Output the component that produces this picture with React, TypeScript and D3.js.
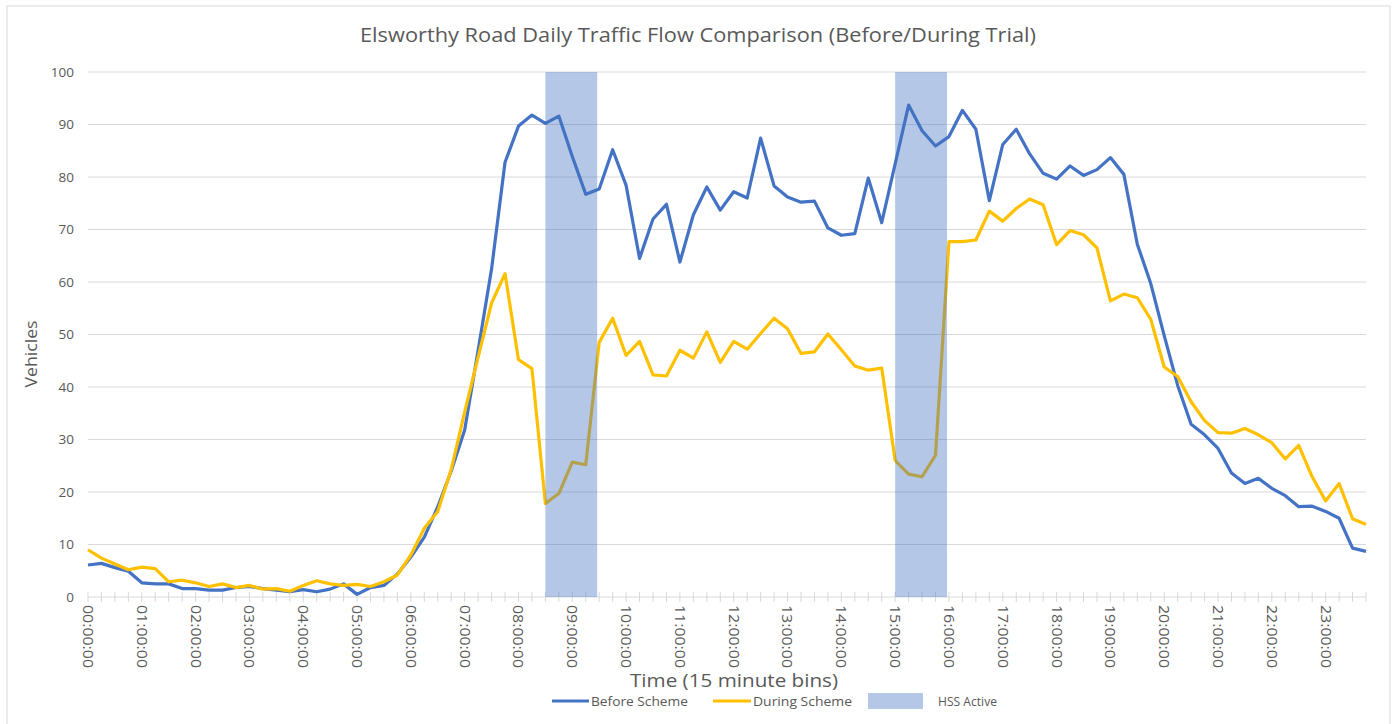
import React from "react";
import * as d3 from "d3";

// 15 minute bins, 00:00 .. 23:45 (96 values)
const beforeScheme = [
  6.1, 6.4, 5.6, 4.9, 2.7, 2.5, 2.5, 1.6, 1.6, 1.3, 1.3, 1.8, 2.0, 1.6, 1.3, 1.0,
  1.4, 1.0, 1.5, 2.5, 0.5, 1.8, 2.2, 4.4, 7.6, 11.4, 17.2, 24.0, 31.8, 47.0, 62.5, 82.8,
  89.7, 91.8, 90.2, 91.6, 83.9, 76.7, 77.7, 85.2, 78.4, 64.5, 72.0, 74.8, 63.8, 72.8, 78.1, 73.7,
  77.2, 76.0, 87.4, 78.3, 76.2, 75.2, 75.4, 70.3, 68.9, 69.2, 79.8, 71.3, 82.5, 93.7, 88.8, 85.9,
  87.7, 92.7, 89.1, 75.5, 86.2, 89.1, 84.4, 80.7, 79.6, 82.1, 80.3, 81.4, 83.7, 80.5, 67.2, 59.7,
  49.8, 40.3, 32.9, 30.9, 28.3, 23.6, 21.6, 22.6, 20.7, 19.3, 17.2, 17.3, 16.3, 15.0, 9.3, 8.7,
];

const duringScheme = [
  9.0, 7.4, 6.3, 5.2, 5.7, 5.4, 2.9, 3.2, 2.7, 2.0, 2.5, 1.8, 2.2, 1.5, 1.6, 1.1,
  2.2, 3.1, 2.5, 2.2, 2.4, 2.0, 2.9, 4.2, 8.0, 13.1, 16.3, 24.3, 35.2, 45.7, 56.0, 61.6,
  45.2, 43.5, 17.8, 19.7, 25.7, 25.2, 48.5, 53.1, 46.0, 48.7, 42.3, 42.1, 47.0, 45.5, 50.5, 44.7,
  48.7, 47.2, 50.2, 53.1, 51.1, 46.4, 46.7, 50.1, 47.1, 44.0, 43.2, 43.6, 26.0, 23.4, 22.9, 27.0,
  67.7, 67.7, 68.0, 73.5, 71.6, 74.0, 75.8, 74.7, 67.1, 69.8, 69.0, 66.5, 56.4, 57.7, 57.0, 52.9,
  43.8, 42.0, 37.2, 33.6, 31.3, 31.2, 32.1, 30.9, 29.4, 26.3, 28.9, 22.9, 18.3, 21.6, 14.9, 13.8,
];

const hourLabels = [
  "00:00:00", "01:00:00", "02:00:00", "03:00:00", "04:00:00", "05:00:00",
  "06:00:00", "07:00:00", "08:00:00", "09:00:00", "10:00:00", "11:00:00",
  "12:00:00", "13:00:00", "14:00:00", "15:00:00", "16:00:00", "17:00:00",
  "18:00:00", "19:00:00", "20:00:00", "21:00:00", "22:00:00", "23:00:00",
];

// HSS active windows
const hssPeriods: [string, string][] = [
  ["08:30", "09:30"],
  ["15:00", "16:00"],
];

const yTicks = [0, 10, 20, 30, 40, 50, 60, 70, 80, 90, 100];

const BLUE = "#4472C4";
const GOLD = "#FFC000";
const TEXT = "#595959";
const GRID = "#d9d9d9";
const FONT = "'Open Sans', Lato, sans-serif";

const toBin = (t: string) => {
  const [h, m] = t.split(":").map(Number);
  return h * 4 + m / 15;
};

export default function App() {
  const x = d3.scaleLinear().domain([0, beforeScheme.length - 1]).range([88, 1366]);
  const y = d3.scaleLinear().domain([0, 100]).range([597, 72]);

  const line = d3
    .line<number>()
    .x((_, i) => x(i))
    .y((d) => y(d));

  return (
    <svg
      width={1397}
      height={724}
      style={{ position: "absolute", left: 0, top: 0, background: "#fff" }}
      fontFamily={FONT}
    >
      <rect x={7} y={6} width={1383} height={730} fill="#fff" stroke={GRID} strokeWidth={1} />

      <text x={698} y={42} textAnchor="middle" fontSize={19.5} fill={TEXT} textLength={676} lengthAdjust="spacingAndGlyphs">
        Elsworthy Road Daily Traffic Flow Comparison (Before/During Trial)
      </text>

      {/* gridlines + y labels */}
      {yTicks.map((t) => (
        <g key={t}>
          <line x1={88} x2={1366} y1={y(t)} y2={y(t)} stroke={GRID} strokeWidth={1} />
          <text x={74} y={y(t)} dy="0.35em" textAnchor="end" fontSize={13.5} fill={TEXT}>
            {t}
          </text>
        </g>
      ))}

      {/* category ticks */}
      {beforeScheme.map((_, i) => (
        <line key={i} x1={x(i)} x2={x(i)} y1={y(0) - 5} y2={y(0) + 5} stroke={GRID} strokeWidth={1} />
      ))}

      {/* x labels, one per hour */}
      {hourLabels.map((lab, h) => (
        <text
          key={lab}
          transform={`translate(${x(h * 4)},${605}) rotate(90)`}
          dy="0.35em"
          fontSize={14.5}
          fill={TEXT}
          textLength={63}
          lengthAdjust="spacingAndGlyphs"
        >
          {lab}
        </text>
      ))}

      <path d={line(beforeScheme) ?? ""} fill="none" stroke={BLUE} strokeWidth={3.2} strokeLinejoin="round" />
      <path d={line(duringScheme) ?? ""} fill="none" stroke={GOLD} strokeWidth={3.2} strokeLinejoin="round" />

      {hssPeriods.map(([a, b]) => (
        <rect
          key={a}
          x={x(toBin(a))}
          y={y(100)}
          width={x(toBin(b)) - x(toBin(a)) - 2}
          height={y(0) - y(100)}
          fill={BLUE}
          fillOpacity={0.4}
        />
      ))}

      <text transform={`translate(37,354) rotate(-90)`} textAnchor="middle" fontSize={16.5} fill={TEXT} textLength={67} lengthAdjust="spacingAndGlyphs">
        Vehicles
      </text>
      <text x={734} y={687} textAnchor="middle" fontSize={17.5} fill={TEXT} textLength={208} lengthAdjust="spacingAndGlyphs">
        Time (15 minute bins)
      </text>

      {/* legend */}
      <g fontSize={13.5} fill={TEXT}>
        <line x1={552} x2={589} y1={701} y2={701} stroke={BLUE} strokeWidth={3.2} />
        <text x={591} y={701} dy="0.35em" textLength={97} lengthAdjust="spacingAndGlyphs">Before Scheme</text>
        <line x1={713} x2={751} y1={701} y2={701} stroke={GOLD} strokeWidth={3.2} />
        <text x={753} y={701} dy="0.35em" textLength={99} lengthAdjust="spacingAndGlyphs">During Scheme</text>
        <rect x={868} y={693} width={55} height={16} fill={BLUE} fillOpacity={0.4} />
        <text x={938} y={701} dy="0.35em" textLength={59} lengthAdjust="spacingAndGlyphs">HSS Active</text>
      </g>
    </svg>
  );
}
